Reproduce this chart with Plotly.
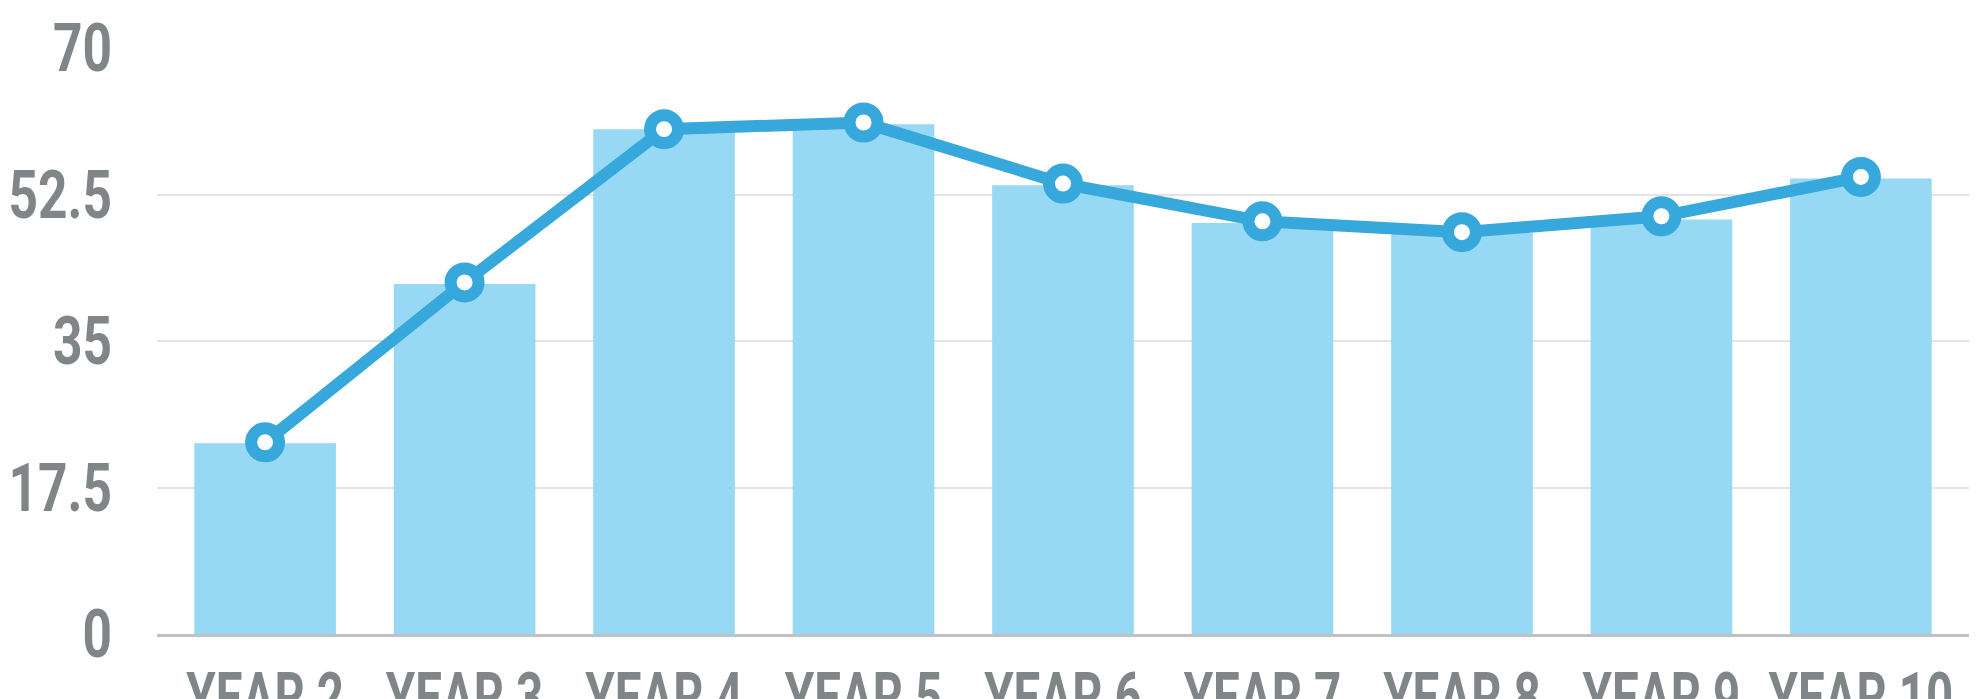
import plotly.graph_objects as go

categories = ["YEAR 2", "YEAR 3", "YEAR 4", "YEAR 5", "YEAR 6", "YEAR 7", "YEAR 8", "YEAR 9", "YEAR 10"]
bar_values = [22.8, 41.8, 60.3, 60.9, 53.6, 49.1, 47.9, 49.5, 54.4]
line_values = [22.9, 42.0, 60.3, 61.1, 53.8, 49.3, 48.0, 49.9, 54.6]
y_ticks = [0, 17.5, 35, 52.5, 70]
y_tick_labels = ["0", "17.5", "35", "52.5", "70"]

FONT = "Roboto, Liberation Sans, Arial, sans-serif"
LABEL_COLOR = "#808588"

fig = go.Figure()
fig.add_trace(go.Bar(
    x=categories, y=bar_values,
    marker=dict(color="#97D8F4", line=dict(width=0)),
    hoverinfo="skip",
))
fig.add_trace(go.Scatter(
    x=categories, y=line_values,
    mode="lines+markers",
    line=dict(color="#37A8DB", width=12),
    marker=dict(size=28, color="white", line=dict(color="#37A8DB", width=12)),
    hoverinfo="skip",
))

fig.update_layout(
    width=1986, height=699,
    margin=dict(l=157, r=17, t=48, b=65),
    paper_bgcolor="white", plot_bgcolor="white",
    showlegend=False,
    bargap=0.29,
    font=dict(family=FONT, color=LABEL_COLOR),
)
fig.update_xaxes(
    type="category",
    showgrid=False, automargin=False,
    showline=True, linecolor="#bfc1c2", linewidth=3,
    ticks="", ticklabelstandoff=4, tickangle=0,
    tickfont=dict(family=FONT, size=66, color=LABEL_COLOR, weight="bold"),
)
fig.update_yaxes(
    range=[0, 70], automargin=False,
    tickmode="array", tickvals=y_ticks, ticktext=y_tick_labels,
    showgrid=True, gridcolor="#e3e3e3", gridwidth=2,
    zeroline=False, showline=False,
    ticks="", ticklabelstandoff=44,
    tickfont=dict(family=FONT, size=66, color=LABEL_COLOR, weight="bold"),
)

# Condense tick label glyphs horizontally (the reference uses a narrow display face)
squeeze_js = """
document.body.style.margin='0';
document.body.style.overflow='hidden';
function squeeze(sel, f){
  document.querySelectorAll(sel).forEach(function(t){
    var w = t.getComputedTextLength();
    t.setAttribute('lengthAdjust','spacingAndGlyphs');
    t.setAttribute('textLength', (w*f).toFixed(1));
  });
}
squeeze('.xtick text', 0.72);
squeeze('.ytick text', 0.78);
"""

fig.write_html("out.html", config={"displayModeBar": False}, post_script=squeeze_js)
